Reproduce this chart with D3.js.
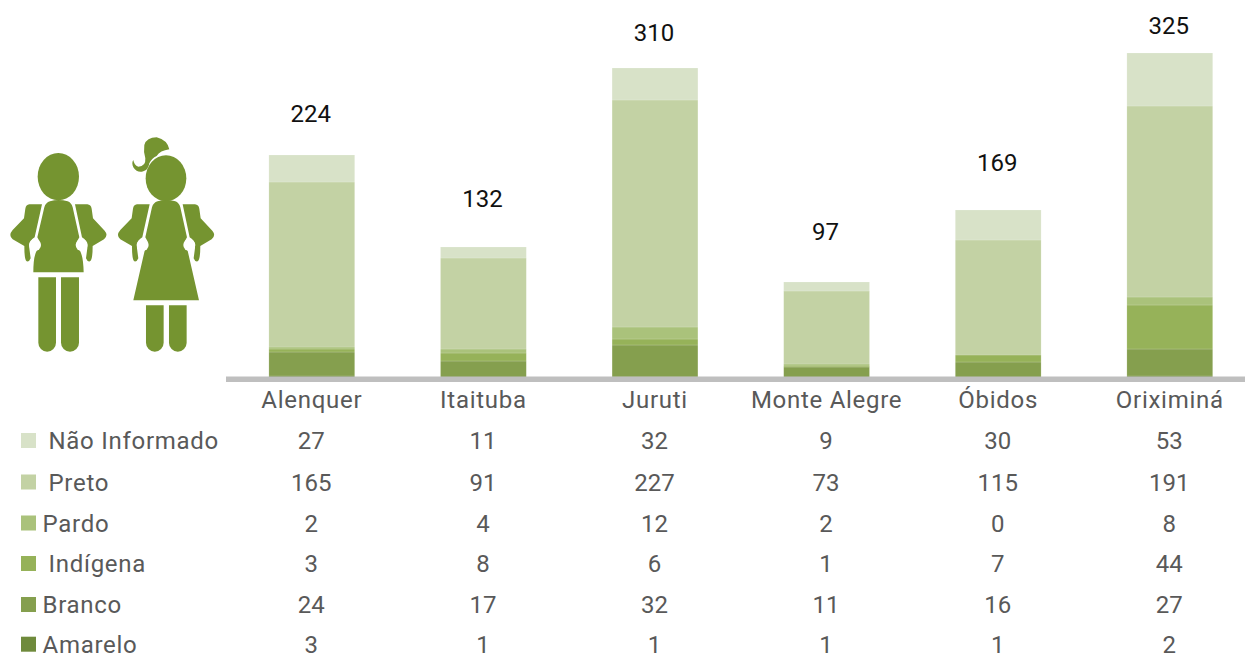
<!DOCTYPE html>
<html><head><meta charset="utf-8">
<script src="https://cdn.jsdelivr.net/npm/d3@7/dist/d3.min.js"></script>
<style>html,body{margin:0;padding:0;background:#fff;overflow:hidden}svg{display:block}text{font-family:Roboto,sans-serif}</style>
</head><body><svg id="c" width="1245" height="658"></svg>
<script>
const categories = ["Alenquer","Itaituba","Juruti","Monte Alegre","Óbidos","Oriximiná"];
const seriesNames = ["Não Informado","Preto","Pardo","Indígena","Branco","Amarelo"];
const naoInformado = [27,11,32,9,30,53];
const preto = [165,91,227,73,115,191];
const pardo = [2,4,12,2,0,8];
const indigena = [3,8,6,1,7,44];
const branco = [24,17,32,11,16,27];
const amarelo = [3,1,1,1,1,2];
const totals = [224,132,310,97,169,325];
const seriesValues = [naoInformado,preto,pardo,indigena,branco,amarelo];
const seriesColors = ["#d8e2c8","#c3d2a4","#aac27b","#96b259","#859f4e","#6f8a3c"];

// layout constants
const labelLift = [42,49,36,51,48,28];
const baseSink = [3,3,2,3,3,2];   // how far each column's foot runs behind the axis rule
const rowY = [440.5,482,523,563.5,604.5,644.2];
const legendLabelX = [48.5,48.5,42.5,48.5,42.5,42.5];

const svg = d3.select("#c");
const FS = 24, LS = "0.72px";
const x = d3.scaleBand().domain(categories).range([226,1255.6]).paddingInner(0.5).paddingOuter(0.25);
const y = d3.scaleLinear().domain([0,323]).range([376,53]);

const rows = categories.map((c,i)=>{const r={cat:c};seriesNames.forEach((s,k)=>r[s]=seriesValues[k][i]);return r;});
const stack = d3.stack().keys(seriesNames.slice().reverse())
  .offset((series,order)=>{
    d3.stackOffsetNone(series,order);
    series.forEach(s=>s.forEach((p,j)=>{p[0]-=baseSink[j];p[1]-=baseSink[j];}));
  });
const layers = stack(rows);
svg.append("g").selectAll("g").data(layers).join("g")
  .attr("fill",d=>seriesColors[seriesNames.indexOf(d.key)])
  .selectAll("rect").data(d=>d).join("rect")
  .attr("x",d=>x(d.data.cat)).attr("width",x.bandwidth())
  .attr("y",d=>y(d[1])).attr("height",d=>y(d[0])-y(d[1]))
  .attr("stroke","#fff").attr("stroke-opacity",0.25).attr("stroke-width",0.6);

// axis
const axis = svg.append("g").attr("transform","translate(0,379.2)")
  .call(d3.axisBottom(x).tickSize(0).tickPadding(12));
axis.select(".domain").attr("stroke","#bfbfbf").attr("stroke-width",5.6).attr("d","M226,0H1245");
axis.selectAll("text").attr("font-size",FS).attr("fill","#595959").attr("letter-spacing",LS)
  .attr("font-family","Roboto,sans-serif");

// totals
svg.append("g").selectAll("text").data(totals).join("text")
  .attr("x",(d,i)=>x(categories[i])+x.bandwidth()/2-1)
  .attr("y",(d,i)=>y(d-baseSink[i])-labelLift[i])
  .attr("dy","0.36em").attr("text-anchor","middle")
  .attr("font-size",FS).attr("fill","#111").text(d=>d);

// data table
const tbl = svg.append("g").selectAll("g").data(seriesNames).join("g")
  .attr("transform",(d,i)=>`translate(0,${rowY[i]})`);
tbl.append("rect").attr("x",21).attr("y",-7.5).attr("width",15).attr("height",15)
  .attr("fill",(d,i)=>seriesColors[i]);
tbl.append("text").attr("x",(d,i)=>legendLabelX[i]).attr("dy","0.36em")
  .attr("font-size",FS).attr("fill","#595959").attr("letter-spacing",LS).text(d=>d);
tbl.each(function(d,i){
  d3.select(this).selectAll("text.v").data(seriesValues[i]).join("text").attr("class","v")
    .attr("x",(v,j)=>x(categories[j])+x.bandwidth()/2-0.5).attr("dy","0.36em")
    .attr("text-anchor","middle").attr("font-size",FS).attr("fill","#595959").text(v=>v);
});

// pictograms
const ICON = "#759430";
const icons = svg.append("g").attr("transform","translate(0,120) scale(0.3333)").attr("fill",ICON);
const armL = "M88,253 H126 L104,352 Q86,362 88,385 L92,415 Q88,426 80,424 Q73,420 73,378 L38,358 Q24,346 38,330 L72,295 L76,266 Q78,254 88,253 Z";
const armR = "M225,253 H262 Q273,254 275,266 L279,295 L314,332 Q326,346 312,358 L278,378 Q278,420 270,424 Q262,426 258,415 L262,385 Q264,362 246,352 Z";
function addArms(dx){
  const g = icons.append("g").attr("transform",`translate(${dx},0)`);
  g.append("path").attr("d",armL);
  g.append("path").attr("d",armR);
}
function addJoints(dx){
  [105,245].forEach(cx=>icons.append("circle").attr("cx",cx+dx).attr("cy",375).attr("r",18).attr("fill","#fff"));
}
function addLeg(lx,top,w){
  icons.append("path").attr("d",`M${lx},${top} h${w} V668 a${w/2},27 0 0 1 -${w},0 Z`);
}
// boy
icons.append("ellipse").attr("cx",175).attr("cy",170).attr("rx",62).attr("ry",71);
addArms(0);
icons.append("path").attr("d","M150,244 Q175,236 203,244 Q214,248 218,262 L238,352 Q222,375 240,392 Q250,410 251,457 H100 Q100,410 110,392 Q128,375 112,352 L133,262 Q137,248 150,244 Z");
addJoints(0);
addLeg(115,472,53); addLeg(183,472,54);
// girl
icons.append("ellipse").attr("cx",498).attr("cy",175).attr("rx",61).attr("ry",69);
addArms(323);
icons.append("path").attr("d","M473,244 Q498,236 526,244 Q537,248 541,262 L561,352 Q545,375 563,392 L597,541 H400 L434,392 Q452,375 436,352 L456,262 Q460,248 473,244 Z");
addJoints(323);
addLeg(438,556,53); addLeg(507,556,53);
icons.append("path").attr("d","M470,108 Q480,92 508,88 Q502,60 470,52 Q440,52 433,75 Q430,95 436,115 Q438,140 415,140 Q402,135 400,120 Q394,128 400,142 Q412,160 430,154 Q445,150 448,130 Q455,115 470,108 Z");
</script></body></html>
